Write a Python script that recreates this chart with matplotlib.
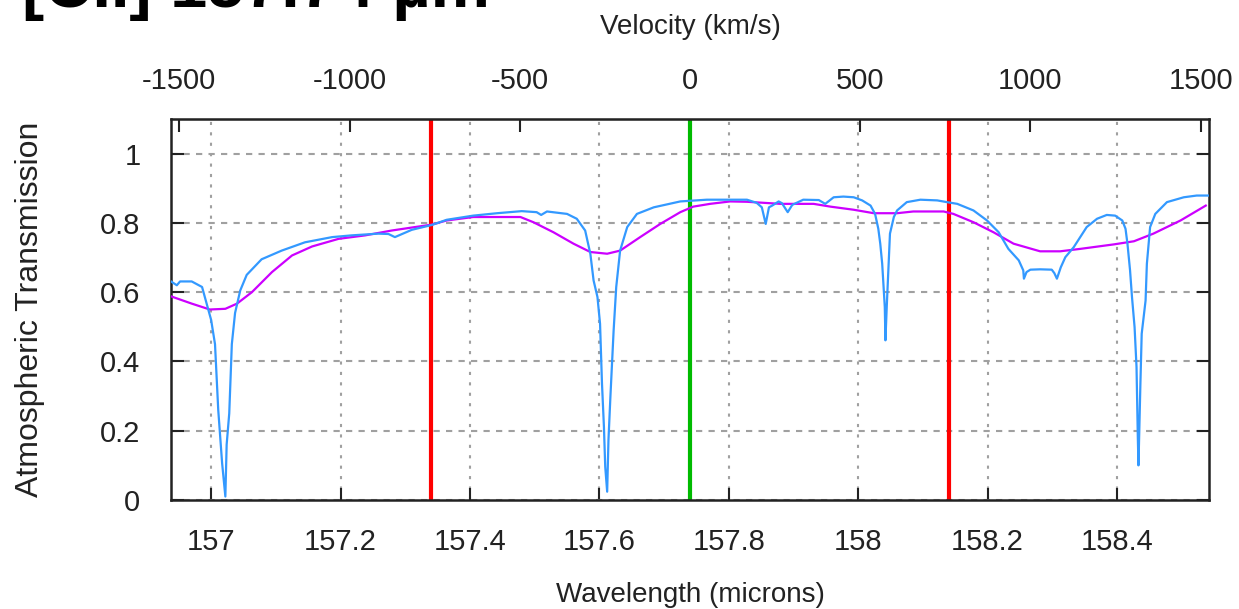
import numpy as np
import matplotlib
matplotlib.use("Agg")
import matplotlib.pyplot as plt

plt.rcParams['font.family'] = ['Liberation Sans', 'DejaVu Sans']

# rest wavelength of [CII] and speed of light
lam0 = 157.74
c_kms = 299792.458

# high resolution atmospheric transmission (blue)
wave_hi = [156.938, 156.947, 156.952, 156.970, 156.986, 156.993, 157.000, 157.006,
           157.011, 157.017, 157.022, 157.024, 157.028, 157.032, 157.037, 157.045,
           157.055, 157.078, 157.109, 157.145, 157.187, 157.217, 157.258, 157.274,
           157.284, 157.294, 157.310, 157.341, 157.364, 157.405, 157.442, 157.480,
           157.503, 157.510, 157.519, 157.550, 157.565, 157.578, 157.586, 157.591,
           157.597, 157.601, 157.604, 157.607, 157.609, 157.612, 157.614, 157.617,
           157.622, 157.626, 157.632, 157.643, 157.658, 157.684, 157.725, 157.766,
           157.828, 157.843, 157.851, 157.857, 157.862, 157.867, 157.877, 157.882,
           157.891, 157.898, 157.915, 157.939, 157.949, 157.962, 157.977, 157.993,
           158.006, 158.019, 158.026, 158.031, 158.034, 158.037, 158.041, 158.042,
           158.044, 158.047, 158.049, 158.055, 158.060, 158.075, 158.096, 158.122,
           158.137, 158.153, 158.178, 158.199, 158.217, 158.232, 158.248, 158.255,
           158.256, 158.260, 158.266, 158.281, 158.299, 158.303, 158.307, 158.313,
           158.320, 158.333, 158.353, 158.369, 158.384, 158.397, 158.408, 158.413,
           158.416, 158.420, 158.423, 158.427, 158.430, 158.432, 158.433, 158.434,
           158.436, 158.438, 158.444, 158.446, 158.451, 158.459, 158.477, 158.503,
           158.523, 158.542]
trans_hi = [0.631, 0.620, 0.631, 0.631, 0.615, 0.567, 0.520, 0.450,
            0.260, 0.106, 0.010, 0.160, 0.250, 0.450, 0.540, 0.605,
            0.650, 0.695, 0.720, 0.744, 0.759, 0.764, 0.769, 0.768,
            0.759, 0.767, 0.780, 0.794, 0.809, 0.821, 0.828, 0.834,
            0.831, 0.823, 0.833, 0.826, 0.812, 0.778, 0.711, 0.634,
            0.586, 0.509, 0.336, 0.211, 0.096, 0.024, 0.173, 0.298,
            0.490, 0.615, 0.720, 0.788, 0.826, 0.845, 0.862, 0.867,
            0.867, 0.858, 0.845, 0.797, 0.845, 0.850, 0.862, 0.857,
            0.831, 0.852, 0.867, 0.866, 0.855, 0.874, 0.876, 0.874,
            0.865, 0.850, 0.826, 0.783, 0.740, 0.682, 0.557, 0.461,
            0.557, 0.682, 0.769, 0.817, 0.836, 0.860, 0.867, 0.865,
            0.860, 0.855, 0.836, 0.807, 0.773, 0.725, 0.692, 0.663,
            0.639, 0.658, 0.665, 0.666, 0.665, 0.655, 0.639, 0.672,
            0.701, 0.730, 0.788, 0.812, 0.823, 0.821, 0.807, 0.783,
            0.740, 0.663, 0.586, 0.499, 0.384, 0.182, 0.100, 0.182,
            0.336, 0.480, 0.576, 0.682, 0.788, 0.826, 0.860, 0.874,
            0.879, 0.879]

# transmission convolved to instrument resolution (magenta)
wave_lo = [156.938, 156.970, 156.998, 157.022, 157.040, 157.063, 157.094, 157.125,
           157.156, 157.197, 157.238, 157.279, 157.315, 157.341, 157.364, 157.405,
           157.478, 157.498, 157.529, 157.560, 157.586, 157.612, 157.632, 157.663,
           157.694, 157.725, 157.745, 157.771, 157.802, 157.828, 157.880, 157.931,
           157.957, 157.993, 158.024, 158.060, 158.085, 158.132, 158.147, 158.178,
           158.209, 158.240, 158.281, 158.312, 158.343, 158.395, 158.426, 158.456,
           158.498, 158.537]
trans_lo = [0.588, 0.567, 0.550, 0.552, 0.567, 0.600, 0.658, 0.706,
            0.732, 0.754, 0.764, 0.778, 0.788, 0.795, 0.807, 0.817,
            0.817, 0.802, 0.773, 0.740, 0.716, 0.711, 0.720, 0.759,
            0.797, 0.831, 0.847, 0.855, 0.862, 0.861, 0.855, 0.855,
            0.847, 0.838, 0.828, 0.828, 0.833, 0.833, 0.826, 0.802,
            0.773, 0.740, 0.718, 0.718, 0.725, 0.738, 0.747, 0.769,
            0.807, 0.850]

# line centre and integration limits
line_centre = [157.74]
line_limits = [157.34, 158.14]

x_ticks = [157.0, 157.2, 157.4, 157.6, 157.8, 158.0, 158.2, 158.4]
y_ticks = [0, 0.2, 0.4, 0.6, 0.8, 1.0]
v_ticks = [-1500, -1000, -500, 0, 500, 1000, 1500]


def lam2vel(lam):
    return c_kms * (np.asarray(lam) - lam0) / lam0


def vel2lam(v):
    return lam0 * (1 + np.asarray(v) / c_kms)


fig = plt.figure(figsize=(12.39, 6.09), dpi=100)
ax = fig.add_axes([171 / 1239, 109 / 609, 1038 / 1239, 381 / 609])

for lam in line_limits:
    ax.axvline(lam, color='#ff0000', lw=3, zorder=2)
for lam in line_centre:
    ax.axvline(lam, color='#00bb00', lw=3, zorder=2)

ax.plot(wave_lo, trans_lo, color='#cc00ff', lw=1.6, zorder=3)
ax.plot(wave_hi, trans_hi, color='#3399ff', lw=1.6, zorder=4)

ax.set_xlim(156.938, 158.542)
ax.set_ylim(0, 1.1)
ax.set_xticks(x_ticks)
ax.set_xticklabels(['157', '157.2', '157.4', '157.6', '157.8', '158', '158.2', '158.4'])
ax.set_yticks(y_ticks)
ax.set_yticklabels(['0', '0.2', '0.4', '0.6', '0.8', '1'])

ax.tick_params(axis='both', direction='in', length=9, width=1.5, labelsize=21, colors='#222222')
ax.tick_params(axis='x', pad=20)
ax.tick_params(axis='y', pad=22, right=True)
ax.xaxis.grid(True, linestyle=(0, (1.5, 3.5)), color='#a0a0a0', lw=1.5)
ax.yaxis.grid(True, linestyle=(0, (3, 3)), color='#a0a0a0', lw=1.5)
for sp in ax.spines.values():
    sp.set_linewidth(1.8)
    sp.set_color('#222222')

sec = ax.secondary_xaxis('top', functions=(lam2vel, vel2lam))
sec.set_xticks(v_ticks)
sec.set_xticklabels([str(v) for v in v_ticks])
sec.tick_params(direction='in', length=9, width=1.5, labelsize=21, pad=17, colors='#222222')
sec.set_xlabel('Velocity (km/s)', fontsize=20, labelpad=24, color='#222222')

ax.set_xlabel('Wavelength (microns)', fontsize=20, labelpad=19, color='#222222')
ax.set_ylabel('Atmospheric Transmission', fontsize=23, labelpad=40, color='#222222')

fig.text(22 / 1239, 1 - 7 / 609, '[CII] 157.74 \u00b5m', fontsize=48, fontweight='bold',
         ha='left', va='baseline')

fig.savefig('out.png', dpi=100)
